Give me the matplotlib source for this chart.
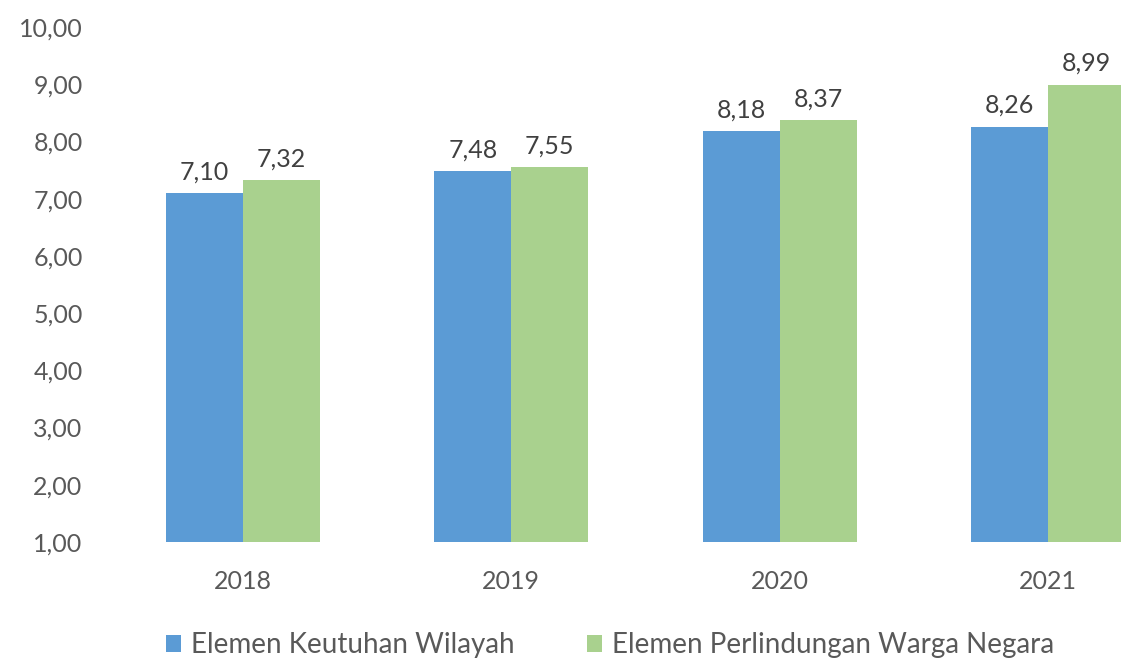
import matplotlib
matplotlib.use("Agg")
import matplotlib.pyplot as plt
import numpy as np

years = ["2018", "2019", "2020", "2021"]
keutuhan = [7.10, 7.48, 8.18, 8.26]
perlindungan = [7.32, 7.55, 8.37, 8.99]
series_names = ["Elemen Keutuhan Wilayah", "Elemen Perlindungan Warga Negara"]
yticks = [1, 2, 3, 4, 5, 6, 7, 8, 9, 10]

plt.rcParams['font.family'] = ['Lato', 'DejaVu Sans']
fig = plt.figure(figsize=(11.21, 6.63), dpi=100)
ax = fig.add_axes([109/1121, (663-542)/663, 1 - 109/1121, (542-27)/663])

x = np.arange(len(years))
w = 0.287
blue = "#5B9BD5"
green = "#A9D18E"
base = 1
fs = 18
b1 = ax.bar(x - w/2, np.array(keutuhan) - base, w, bottom=base, color=blue, label=series_names[0])
b2 = ax.bar(x + w/2, np.array(perlindungan) - base, w, bottom=base, color=green, label=series_names[1])

for xi, v in zip(x - w/2, keutuhan):
    ax.text(xi, v + 0.17, f"{v:.2f}".replace(".", ","), ha="center", va="bottom", fontsize=fs, color="#404040")
for xi, v in zip(x + w/2, perlindungan):
    ax.text(xi, v + 0.17, f"{v:.2f}".replace(".", ","), ha="center", va="bottom", fontsize=fs, color="#404040")

ax.set_ylim(1, 10)
ax.set_xlim(-0.5, 3.5 - 61/268.5)
ax.set_yticks(yticks)
ax.set_yticklabels([f"{t:.2f}".replace(".", ",") for t in yticks], fontsize=fs, color="#595959")
ax.set_xticks(x)
ax.set_xticklabels(years, fontsize=fs, color="#595959")
ax.tick_params(length=0)
ax.tick_params(axis='y', pad=19)
ax.tick_params(axis='x', pad=20)
for s in ax.spines.values():
    s.set_visible(False)

fig.legend(handles=[b1, b2], labels=series_names, loc="center", bbox_to_anchor=(0.544, (663-645)/663),
           ncol=2, frameon=False, fontsize=20, handlelength=0.55, handleheight=0.55, handletextpad=0.35,
           columnspacing=2.6, labelcolor="#595959")

fig.savefig("out.png", dpi=100)
